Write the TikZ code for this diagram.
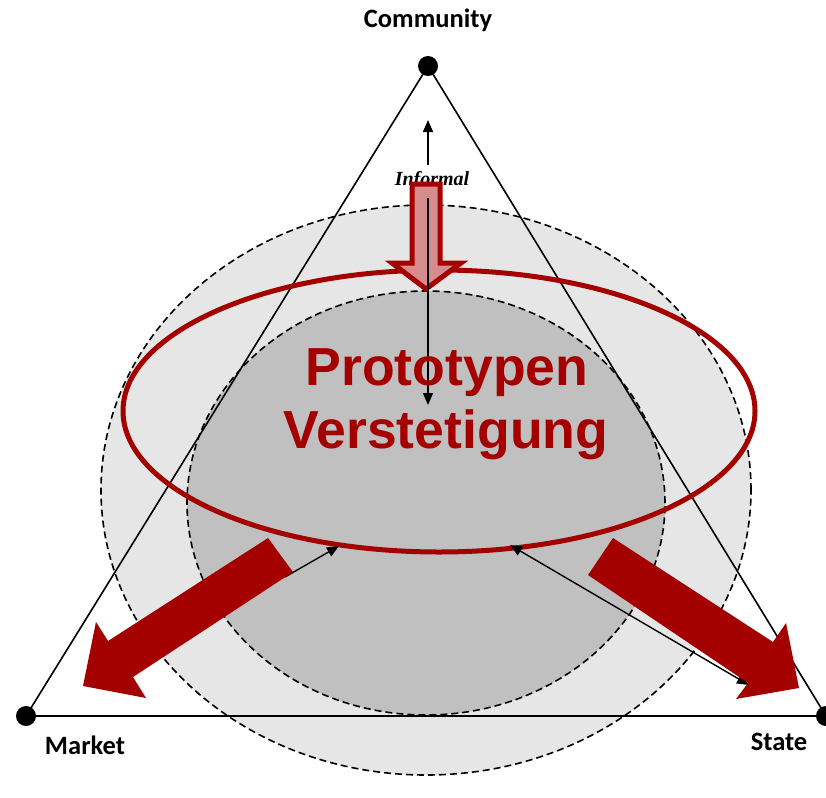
\documentclass[tikz,border=0pt]{standalone}
\usepackage{fontspec}
\setmainfont{Liberation Sans}
\newfontfamily\calib{Carlito}
\newfontfamily\tms{Liberation Serif}
\usetikzlibrary{shapes.geometric,arrows.meta}
\definecolor{darkred}{RGB}{165,0,0}
\definecolor{pinkfill}{RGB}{214,140,140}
\definecolor{outergray}{RGB}{230,230,230}
\definecolor{innergray}{RGB}{192,192,192}
\tikzset{
  zone/.style={ellipse, inner sep=0pt, draw=black, line width=1.6pt, dash pattern=on 7pt off 4pt},
  vertexdot/.style={circle, fill=black, inner sep=0pt, minimum size=20pt},
  corner/.style={font=\calib\bfseries\fontsize{26.5}{30}\selectfont, inner sep=0pt},
  thinarrow/.style={line width=1.4pt, -{Triangle[length=12pt,width=10pt]}},
  blockarrow/.style={fill=darkred, draw=none},
  bigtext/.style={font=\bfseries\fontsize{53.6}{60}\selectfont, text=darkred, inner sep=0pt},
  edge/.style={line width=1.6pt}
}
\begin{document}
\begin{tikzpicture}[x=1pt,y=-1pt]
\useasboundingbox (0,0) rectangle (826,797);
% zones
\node[zone, fill=outergray, minimum width=650pt, minimum height=570pt] (outer) at (426,490) {};
\node[zone, fill=innergray, minimum width=478pt, minimum height=424pt] (inner) at (426,503) {};
% triangle
\coordinate (C) at (428,66);
\coordinate (M) at (26,716);
\coordinate (S) at (826,716);
\draw[edge] (C) -- (M) -- (S) -- cycle;
% red ellipse
\node[ellipse, inner sep=0pt, draw=darkred, line width=5pt, minimum width=632pt, minimum height=282pt] (proto) at (439,411) {};
% Informal
\node[font=\tms\bfseries\itshape\fontsize{20}{24}\selectfont, inner sep=0pt, anchor=base] (informal) at (432,185) {Informal};
% hollow arrow
\draw[draw=darkred, fill=pinkfill, line width=5pt, line join=miter]
  (412,184) -- (440,184) -- (440,263) -- (461,263) -- (426,289) -- (392,263) -- (412,263) -- cycle;
% black arrows
\coordinate (upS) at (428,165);
\coordinate (upE) at (428,120);
\coordinate (dnS) at (428,198);
\coordinate (dnE) at (428,405);
\coordinate (lS) at (285,577);
\coordinate (lE) at (339,546);
\coordinate (rA) at (510,545);
\coordinate (rB) at (749,685);
\draw[thinarrow] (upS) -- (upE);
\draw[thinarrow] (dnS) -- (dnE);
\draw[thinarrow] (lS) -- (lE);
\draw[line width=1.4pt, {Triangle[length=12pt,width=10pt]}-{Triangle[length=12pt,width=10pt]}] (rA) -- (rB);
% big text
\node[bigtext, anchor=base] (t1) at (447,385) {Prototypen};
\node[bigtext, anchor=base] (t2) at (446,448) {Verstetigung};
% block arrows
\fill[blockarrow] (268,538) -- (108,641) -- (96,622) -- (83,686) -- (146,698) -- (133,677) -- (293,572) -- cycle;
\fill[blockarrow] (613,538) -- (773,642) -- (786,623) -- (799,688) -- (736,699) -- (748,683) -- (588,575) -- cycle;
% vertices
\node[vertexdot] (cdot) at (C) {};
\node[vertexdot] (mdot) at (M) {};
\node[vertexdot] (sdot) at (S) {};
% labels
\node[corner] (community) at (428,20) {Community};
\node[corner] (market) at (85,745) {Market};
\node[corner] (state) at (779,742) {State};
\end{tikzpicture}
\end{document}
